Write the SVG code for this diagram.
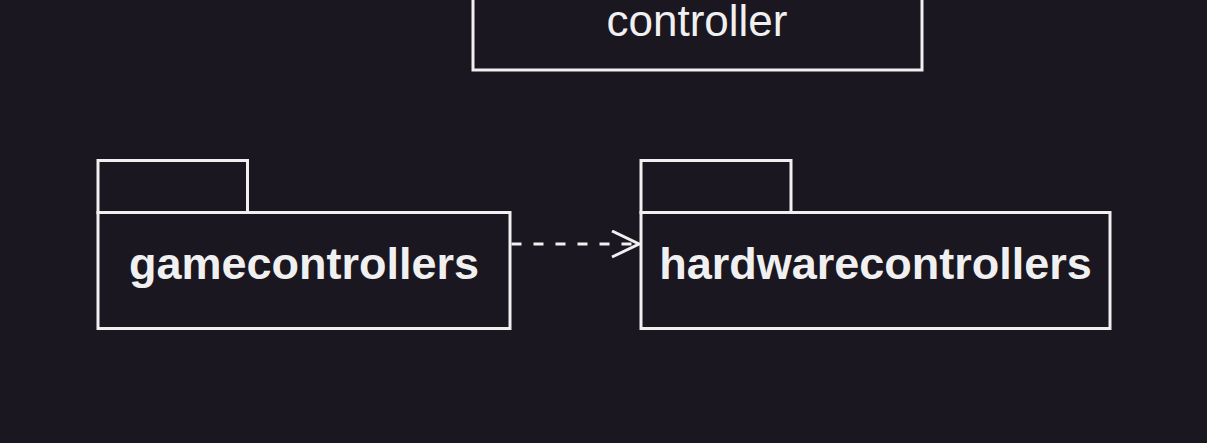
<svg xmlns="http://www.w3.org/2000/svg" width="1207" height="443" viewBox="0 0 1207 443">
<defs>
<style>
.bg{fill:#1a1720}
.shape{fill:#1a1720;stroke:#f0f0f0;stroke-width:3}
.lbl{fill:#f0f0f0;font-family:"Liberation Sans",Arial,sans-serif;text-anchor:middle}
.bold{font-weight:bold;font-size:45px}
.edge{fill:none;stroke:#f0f0f0;stroke-width:3}
</style>
<marker id="open" markerWidth="32" markerHeight="32" refX="29" refY="14" orient="auto" markerUnits="userSpaceOnUse">
<path d="M2,1 L29,14 L2,27" fill="none" stroke="#f0f0f0" stroke-width="3"/>
</marker>
</defs>
<rect class="bg" x="0" y="0" width="1207" height="443"/>
<g id="controller">
<rect class="shape" x="473" y="-30" width="449" height="100"/>
<text class="lbl" x="697" y="36" font-size="44">controller</text>
</g>
<g id="gamecontrollers">
<rect class="shape" x="98" y="160.5" width="149.5" height="52"/>
<rect class="shape" x="98" y="212.5" width="412" height="116"/>
<text class="lbl bold" x="304" y="279">gamecontrollers</text>
</g>
<g id="hardwarecontrollers">
<rect class="shape" x="641" y="160.5" width="150" height="52"/>
<rect class="shape" x="641" y="212.5" width="469" height="116"/>
<text class="lbl bold" x="875.5" y="279">hardwarecontrollers</text>
</g>
<g id="connectors">
<path class="edge" d="M511.5,244 L639,244" stroke-dasharray="10 12" marker-end="url(#open)"/>
</g>
</svg>
